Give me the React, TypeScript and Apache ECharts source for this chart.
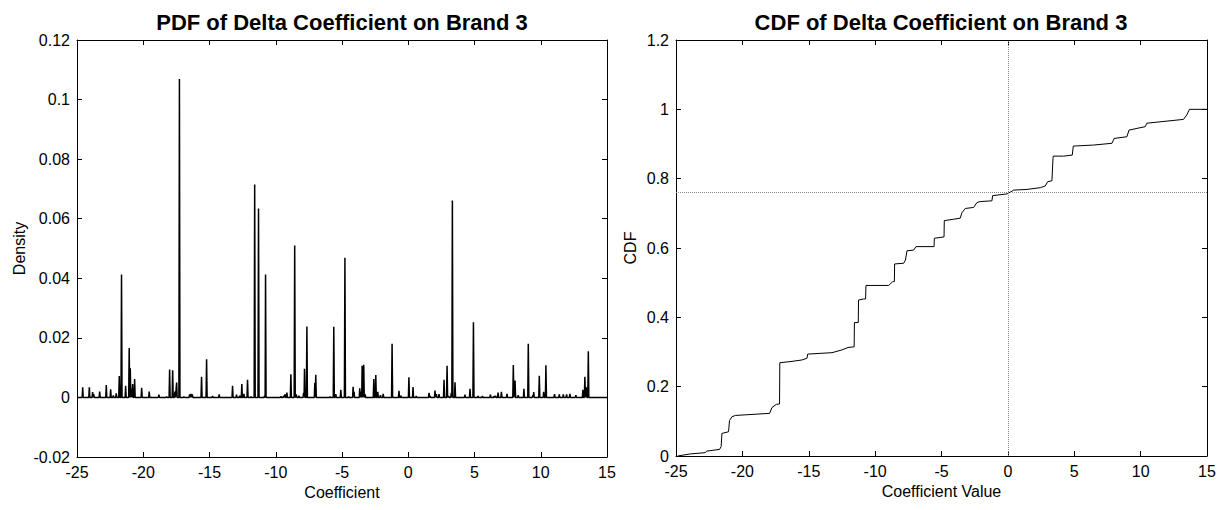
import React, { useEffect, useRef } from "react";
import * as echarts from "echarts";

// PDF spikes: coefficient position and density height
const spikeCoef = [
  -24.57, -24.07, -23.82, -23.74, -23.29, -22.79, -22.46, -22.26, -22.04, -21.81,
  -21.64, -21.33, -21.06, -20.98, -20.88, -20.8, -20.65, -20.12, -19.55, -18.82,
  -18.24, -18.01, -17.78, -17.61, -17.48, -17.27, -16.93, -16.5, -16.4, -16.3,
  -15.6, -15.22, -14.77, -14.27, -13.26, -12.96, -12.72, -12.56, -12.4, -12.13,
  -11.88, -11.59, -11.3, -10.84, -10.77, -9.6, -9.4, -9.3, -9.16, -8.86,
  -8.57, -8.45, -8.25, -7.9, -7.83, -7.65, -7.05, -6.98, -5.9, -5.62,
  -5.47, -5.09, -4.78, -4.5, -4.16, -4.09, -3.66, -3.55, -3.48, -3.36,
  -3.25, -2.6, -2.45, -2.3, -2.1, -1.89, -1.22, -0.7, -0.55, 0.05,
  0.36, 0.6, 1.57, 1.65, 2.02, 2.12, 2.32, 2.7, 2.93, 3.05,
  3.25, 3.33, 3.53, 4.28, 4.66, 4.92, 5.27, 5.6, 6.2, 6.48,
  6.6, 6.78, 7.03, 7.45, 7.93, 8.06, 8.3, 8.73, 9.06, 9.4,
  9.47, 9.89, 10.22, 10.39, 11.04, 11.4, 11.7, 11.95, 12.2, 12.65,
  13.18, 13.33, 13.45, 13.59,
];
const spikeDensity = [
  0.0034, 0.0034, 0.0018, 0.0011, 0.002, 0.0042, 0.0027, 0.0007, 0.0014, 0.0072,
  0.0413, 0.0039, 0.0166, 0.0098, 0.003, 0.0045, 0.0062, 0.0032, 0.002, 0.0009,
  0.0003, 0.0094, 0.0091, 0.002, 0.005, 0.1069, 0.0003, 0.001, 0.0012, 0.001,
  0.0069, 0.0128, 0.0005, 0.001, 0.0039, 0.0009, 0.0006, 0.0045, 0.0012, 0.0059,
  0.0003, 0.0715, 0.0634, 0.0006, 0.0413, 0.0004, 0.0006, 0.001, 0.0016, 0.0078,
  0.051, 0.001, 0.0006, 0.0015, 0.0096, 0.0238, 0.0049, 0.0076, 0.0003, 0.0237,
  0.0011, 0.0026, 0.0469, 0.0003, 0.0036, 0.0019, 0.0031, 0.0019, 0.0106, 0.011,
  0.001, 0.0062, 0.0075, 0.0019, 0.0008, 0.0012, 0.018, 0.0022, 0.0006, 0.0068,
  0.0035, 0.0005, 0.0015, 0.0005, 0.0023, 0.0011, 0.0011, 0.0059, 0.0106, 0.0005,
  0.0015, 0.0661, 0.0051, 0.0009, 0.0029, 0.0252, 0.0005, 0.0005, 0.0009, 0.0005,
  0.0005, 0.0016, 0.0019, 0.0012, 0.0109, 0.0057, 0.0008, 0.0029, 0.018, 0.0008,
  0.0018, 0.0073, 0.0019, 0.0108, 0.0011, 0.001, 0.001, 0.001, 0.0012, 0.0008,
  0.0026, 0.0069, 0.0034, 0.0155,
];

// CDF curve
const cdfCoef = [
  -24.88, -23.92, -22.79, -22.7, -21.72, -21.6, -21.54, -21.04, -20.97, -20.79,
  -20.53, -17.95, -17.77, -17.44, -17.2, -17.18, -16.26, -15.51, -15.13, -15.08,
  -13.25, -12.5, -12.04, -11.58, -11.56, -11.27, -11.25, -10.87, -10.72, -10.69,
  -8.98, -8.86, -8.68, -8.55, -8.53, -7.85, -7.72, -7.6, -7.1, -6.92,
  -5.56, -5.54, -4.81, -4.79, -4.09, -3.59, -3.46, -3.21, -2.58, -2.33,
  -2.08, -1.2, -1.15, -0.07, 0.31, 0.43, 1.44, 2.44, 2.82, 2.99,
  3.32, 3.4, 3.42, 4.2, 4.85, 4.93, 6.46, 7.84, 8.01, 8.97,
  9.12, 9.72, 10.35, 10.47, 13.23, 13.48, 13.68, 15,
];
const cdfValue = [
  0, 0.006, 0.0096, 0.014, 0.019, 0.027, 0.065, 0.07, 0.102, 0.113,
  0.117, 0.123, 0.14, 0.149, 0.15, 0.269, 0.273, 0.277, 0.282, 0.294,
  0.298, 0.306, 0.313, 0.315, 0.385, 0.385, 0.45, 0.453, 0.453, 0.492,
  0.492, 0.496, 0.503, 0.503, 0.554, 0.556, 0.565, 0.592, 0.594, 0.604,
  0.604, 0.628, 0.632, 0.679, 0.683, 0.686, 0.702, 0.714, 0.717, 0.731,
  0.734, 0.736, 0.751, 0.756, 0.764, 0.767, 0.769, 0.774, 0.779, 0.791,
  0.794, 0.859, 0.865, 0.865, 0.868, 0.894, 0.897, 0.902, 0.916, 0.921,
  0.94, 0.945, 0.95, 0.96, 0.971, 0.984, 1.0, 1.0,
];

const refCdfLevel = 0.755;
const refCoef = 0;

const titles = ["PDF of Delta Coefficient on Brand 3", "CDF of Delta Coefficient on Brand 3"];

const FONT = "'Liberation Sans', Arial, Helvetica, sans-serif";

export default function App() {
  const ref = useRef<HTMLDivElement>(null);

  useEffect(() => {
    document.body.style.margin = "0";
    if (!ref.current) return;
    const chart = echarts.init(ref.current, null, { renderer: "svg" });

    const halfW = 0.04;
    const pdfLine: number[][] = [[-25, 0]];
    spikeCoef.forEach((x, i) => {
      pdfLine.push([x - halfW, 0], [x, spikeDensity[i]], [x + halfW, 0]);
    });
    pdfLine.push([15, 0]);

    const cdfLine = cdfCoef.map((x, i) => [x, cdfValue[i]]);

    const fmt = (v: number) => String(parseFloat(v.toFixed(4)));

    const axisCommon = {
      axisLine: { show: true, onZero: false, lineStyle: { color: "#000", width: 1 } },
      axisTick: { show: true, inside: true, length: 5, lineStyle: { color: "#000" } },
      splitLine: { show: false },
    };
    const labelStyle = { color: "#000", fontSize: 16, fontFamily: FONT, margin: 7, formatter: fmt };
    const nameStyle = { color: "#000", fontSize: 16, fontFamily: FONT };

    const xBase = { type: "value", min: -25, max: 15, interval: 5 };

    chart.setOption({
      animation: false,
      backgroundColor: "#fff",
      graphic: titles.map((t, i) => ({
        type: "text",
        x: i === 0 ? 342 : 941,
        y: 22,
        style: {
          text: t,
          font: `bold 22px ${FONT}`,
          fill: "#000",
          textAlign: "center",
          align: "center",
          textVerticalAlign: "middle",
          verticalAlign: "middle",
        },
      })),
      grid: [
        { left: 77, right: 621, top: 40, bottom: 53 },
        { left: 676, right: 21, top: 40, bottom: 54 },
      ],
      xAxis: [
        {
          ...xBase, ...axisCommon, gridIndex: 0, position: "bottom",
          axisLabel: labelStyle,
          name: "Coefficient", nameLocation: "middle", nameGap: 27, nameTextStyle: nameStyle,
        },
        { ...xBase, ...axisCommon, gridIndex: 0, position: "top", axisLabel: { show: false } },
        {
          ...xBase, ...axisCommon, gridIndex: 1, position: "bottom",
          axisLabel: labelStyle,
          name: "Coefficient Value", nameLocation: "middle", nameGap: 27, nameTextStyle: nameStyle,
        },
        { ...xBase, ...axisCommon, gridIndex: 1, position: "top", axisLabel: { show: false } },
      ],
      yAxis: [
        {
          type: "value", min: -0.02, max: 0.12, interval: 0.02, ...axisCommon, gridIndex: 0,
          position: "left", axisLabel: labelStyle,
          name: "Density", nameLocation: "middle", nameGap: 50, nameTextStyle: nameStyle,
        },
        {
          type: "value", min: -0.02, max: 0.12, interval: 0.02, ...axisCommon, gridIndex: 0,
          position: "right", axisLabel: { show: false },
        },
        {
          type: "value", min: 0, max: 1.2, interval: 0.2, ...axisCommon, gridIndex: 1,
          position: "left", axisLabel: labelStyle,
          name: "CDF", nameLocation: "middle", nameGap: 38, nameTextStyle: nameStyle,
        },
        {
          type: "value", min: 0, max: 1.2, interval: 0.2, ...axisCommon, gridIndex: 1,
          position: "right", axisLabel: { show: false },
        },
      ],
      series: [
        {
          type: "line",
          xAxisIndex: 0,
          yAxisIndex: 0,
          data: pdfLine,
          showSymbol: false,
          symbol: "none",
          lineStyle: { color: "#000", width: 1.5 },
        },
        {
          type: "line",
          xAxisIndex: 2,
          yAxisIndex: 2,
          data: cdfLine,
          showSymbol: false,
          symbol: "none",
          lineStyle: { color: "#000", width: 1 },
          markLine: {
            silent: true,
            symbol: "none",
            label: { show: false },
            lineStyle: { type: "dotted", color: "#888", width: 1 },
            data: [{ yAxis: refCdfLevel }, { xAxis: refCoef }],
          },
        },
      ],
    });

    return () => chart.dispose();
  }, []);

  return <div ref={ref} style={{ width: 1228, height: 510 }} />;
}
